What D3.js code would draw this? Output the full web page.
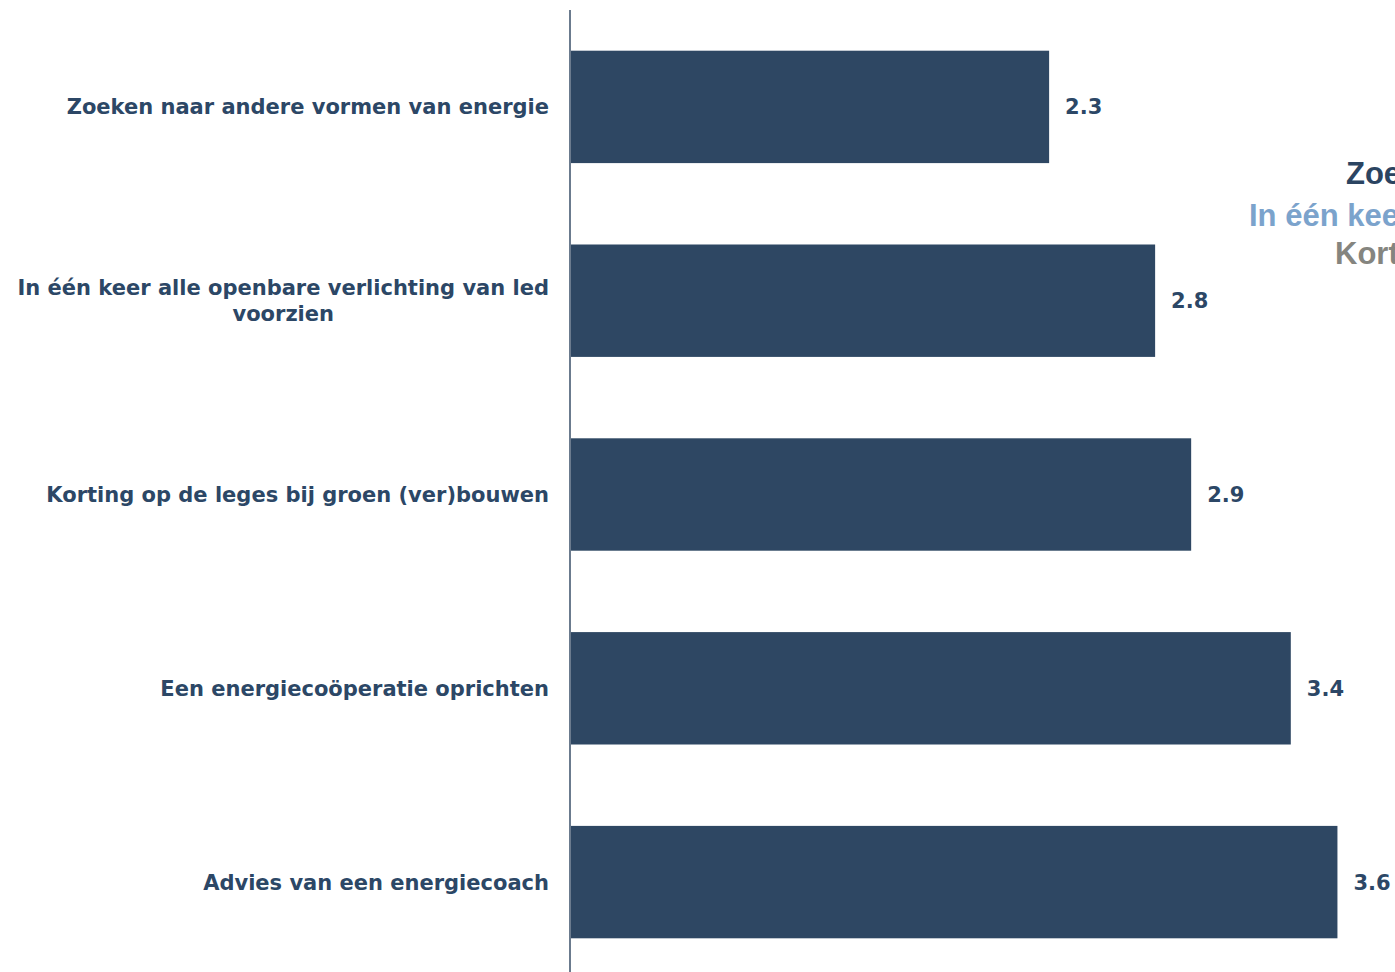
<!DOCTYPE html>
<html>
<head>
<meta charset="utf-8">
<script src="https://cdn.jsdelivr.net/npm/d3@7"></script>
<style>
  html, body { margin: 0; padding: 0; background: #ffffff; }
  svg { display: block; }
</style>
</head>
<body>
<script>
const categories = [
  "Zoeken naar andere vormen van energie",
  "In één keer alle openbare verlichting van led voorzien",
  "Korting op de leges bij groen (ver)bouwen",
  "Een energiecoöperatie oprichten",
  "Advies van een energiecoach"
];
const values = [2.26, 2.76, 2.93, 3.40, 3.62];
const legendLabels = [
  "Zoeken naar andere vormen van energie",
  "In één keer alle openbare verlichting van led voorzien",
  "Korting op de leges bij groen (ver)bouwen"
];
const legendColors = ["#2b4461", "#7ba3cc", "#85857f"];

const W = 1395, H = 972;
const barColor = "#2e4763";
const textColor = "#2c4766";

const svg = d3.select("body").append("svg").attr("width", W).attr("height", H);

const x = d3.scaleLinear().domain([0, 4]).range([570, 1418]);
const y = d3.scaleBand().domain(categories).range([10, 979]).paddingInner(0.42).paddingOuter(0.21);

// bars
svg.append("g").selectAll("rect").data(categories).join("rect")
  .attr("x", x(0) + 1)
  .attr("y", d => y(d))
  .attr("width", (d, i) => x(values[i]) - x(0) - 1)
  .attr("height", y.bandwidth())
  .attr("fill", barColor);

// axis line
const axis = d3.axisLeft(y).tickSize(0).tickFormat("");
const ag = svg.append("g").attr("transform", `translate(${x(0)},0)`).call(axis);
ag.select(".domain").attr("stroke", "#3a4f68").attr("stroke-width", 1.5).attr("d", `M0,10V${H}`);

// value labels
svg.append("g").selectAll("text").data(categories).join("text")
  .attr("x", (d, i) => x(values[i]) + 16)
  .attr("y", d => y(d) + y.bandwidth() / 2)
  .attr("dy", "0.36em")
  .attr("font-family", "DejaVu Sans, Verdana, sans-serif")
  .attr("font-weight", "bold")
  .attr("font-size", 21)
  .attr("fill", textColor)
  .text((d, i) => d3.format(".1f")(values[i]));

// category labels with wrapping
const maxW = 550;
const labelRight = 549;
const lg = svg.append("g");
categories.forEach(cat => {
  const t = lg.append("text")
    .attr("font-family", "DejaVu Sans, Verdana, sans-serif")
    .attr("font-weight", "bold")
    .attr("font-size", 21)
    .attr("fill", textColor);
  const words = cat.split(" ");
  const lines = [];
  let line = [];
  const probe = t.append("tspan");
  words.forEach(w => {
    const test = line.concat([w]).join(" ");
    probe.text(test);
    if (probe.node().getComputedTextLength() > maxW && line.length) {
      lines.push(line.join(" "));
      line = [w];
    } else {
      line.push(w);
    }
  });
  lines.push(line.join(" "));
  probe.remove();
  const lh = 26;
  const cy = y(cat) + y.bandwidth() / 2;
  if (lines.length === 1) {
    t.attr("text-anchor", "end").attr("x", labelRight).attr("y", cy).attr("dy", "0.36em").text(lines[0]);
  } else {
    const spans = lines.map((l, i) => t.append("tspan").text(l));
    const widest = d3.max(spans, s => s.node().getComputedTextLength());
    const cx = labelRight - widest / 2;
    t.attr("text-anchor", "middle");
    const y0 = cy - (lines.length - 1) * lh / 2;
    spans.forEach((s, i) => s.attr("x", cx).attr("y", y0 + i * lh).attr("dy", "0.36em"));
  }
});

// legend (partially outside view, as in the reference)
const legX = [1346, 1249, 1335];
const legY = [184, 226, 264];
svg.append("g").selectAll("text").data(legendLabels).join("text")
  .attr("x", (d, i) => legX[i])
  .attr("y", (d, i) => legY[i])
  .attr("font-family", "Liberation Sans, Arial, sans-serif")
  .attr("font-weight", "bold")
  .attr("font-size", 31)
  .attr("fill", (d, i) => legendColors[i])
  .text(d => d);
</script>
</body>
</html>
